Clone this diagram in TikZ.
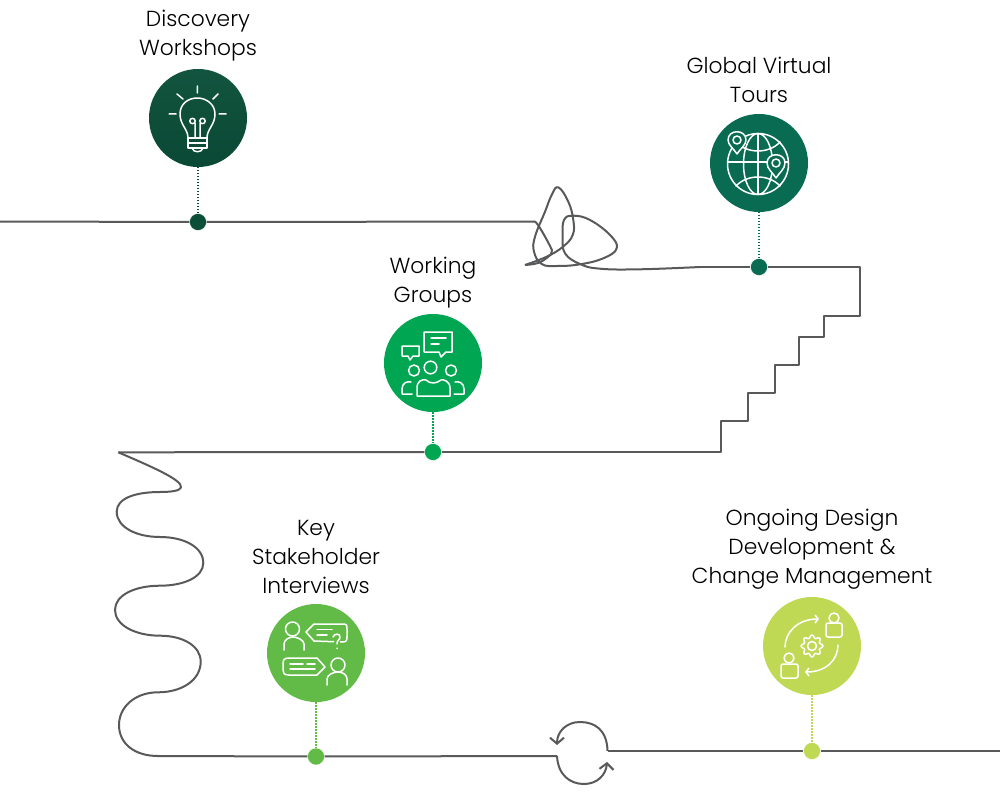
\documentclass[tikz,border=0pt]{standalone}
\usepackage{fontspec}
\setmainfont{Poppins Light}
\usetikzlibrary{arrows.meta}
\definecolor{linegrey}{HTML}{58595B}
\definecolor{discgreen}{HTML}{0B4F39}
\definecolor{globgreen}{HTML}{086B52}
\definecolor{workgreen}{HTML}{00A651}
\definecolor{keygreen}{HTML}{62BB46}
\definecolor{onggreen}{HTML}{BFD955}
\tikzset{
  bigcirc/.style={circle,minimum size=98pt,inner sep=0pt},
  stopdot/.style={circle,minimum size=17pt,inner sep=0pt,draw=white,line width=0.4pt},
  tag/.style={align=center,font=\fontsize{21.8}{29}\selectfont,text=black},
  track/.style={draw=linegrey,line width=2pt,line join=round},
  drop/.style={line width=1.3pt,dash pattern=on 1.3pt off 1.7pt},
  icon/.style={draw=white,line width=1.5pt,line cap=round,line join=round},
}
\begin{document}
\begin{tikzpicture}[x=1pt,y=-1pt]
\useasboundingbox (0,0) rectangle (1000,794);

% circles
\node (disc) at (198,118) [bigcirc,top color=discgreen!97!white,bottom color=discgreen!92!black] {};
\node (glob) at (759,163) [bigcirc,fill=globgreen] {};
\node (work) at (433,363) [bigcirc,fill=workgreen] {};
\node (key) at (316,653) [bigcirc,fill=keygreen] {};
\node (ong) at (812,646) [bigcirc,fill=onggreen] {};

% stops
\node (d1) at (198,222) [stopdot,fill=discgreen] {};
\node (d2) at (759,267) [stopdot,fill=globgreen] {};
\node (d3) at (433,452) [stopdot,fill=workgreen] {};
\node (d4) at (316,756.5) [stopdot,fill=keygreen] {};
\node (d5) at (812,751) [stopdot,fill=onggreen] {};

% labels
\node (t1) at (198,36) [tag] {Discovery\\Workshops};
\node (t2) at (759,80) [tag] {Global Virtual\\Tours};
\node (t3) at (433,283) [tag] {Working\\Groups};
\node (t4) at (316,557) [tag] {Key\\Stakeholder\\Interviews};
\node (t5) at (812,549) [tag] {Ongoing Design\\Development \&\\Change Management};

\draw[drop,discgreen] (disc) -- (d1);
\draw[drop,globgreen] (glob) -- (d2);
\draw[drop,workgreen] (work) -- (d3);
\draw[drop,keygreen] (key) -- (d4);
\draw[drop,onggreen] (ong) -- (d5);

% free ends
\coordinate (inL) at (0,221.5);
\coordinate (knotA) at (535,221.5);
\coordinate (knotB) at (525,265);
\coordinate (knotC) at (700,267);
\coordinate (waveA) at (118.3,452.3);
\coordinate (waveB) at (158,756);
\coordinate (loopA) at (557,756);
\coordinate (loopB) at (607.5,751);
\coordinate (outR) at (1000,751);

% track
\draw[track] (inL) -- (d1);
\draw[track] (d1) -- (knotA);
\draw[track] plot[smooth,tension=0.7] coordinates {(knotA) (540,228) (550,246) (551.7,252) (548,257) (538,263) (knotB)};
\draw[track] plot[smooth,tension=0.7] coordinates {(knotB) (546.7,256.7) (563,246.7) (572.7,235) (573.3,220) (568.3,201.7) (558.3,187.3) (551.7,195) (545,211.7) (535,236.7) (534,251.7) (541.7,264) (556.7,266) (580,264.3) (603.3,258.3) (616.7,248.3) (610,235) (590,220) (573.3,215.7) (564,220) (562.7,236.7) (565,253.3) (580,264) (600,268.7) (640,269.3) (knotC)};
\draw[track] (knotC) -- (d2);
\draw[track] (d2) -- (860,267) -- (860,316) -- (824,316) -- (824,337) -- (799,337) -- (799,365) -- (775,365) -- (775,393) -- (748,393) -- (748,421) -- (721,421) -- (721,452) -- (d3);
\draw[track] (d3) -- (waveA);
\draw[track] (waveA) .. controls (150,466) and (183,480) .. (181,487.5) .. controls (180,491) and (170,492) .. (160,492)
  .. controls (136,492) and (116.7,498) .. (116.7,511.7) .. controls (116.7,527) and (136,537) .. (160,537)
  .. controls (184,537) and (203.3,547) .. (203.3,563) .. controls (203.3,577) and (184,585.7) .. (160,585.7)
  .. controls (135,585.7) and (115,595) .. (115,610) .. controls (115,625) and (135,635.7) .. (160,635.7)
  .. controls (183,635.7) and (200.7,646) .. (200.7,661.7) .. controls (200.7,680) and (182,692.3) .. (158,692.3)
  .. controls (135,692.3) and (119,707) .. (119,725) .. controls (119,744) and (135,756) .. (waveB);
\draw[track] (waveB) -- (d4);
\draw[track] (d4) -- (loopA);
\draw[track,-{Straight Barb[length=6pt,width=14pt]}] (loopA) .. controls (558,775) and (570,784) .. (584,784) .. controls (597,784) and (606,775) .. (607,762);
\draw[track,-{Straight Barb[length=6pt,width=14pt]}] (loopB) .. controls (607,730) and (595,722) .. (580,722) .. controls (566,722) and (557,732) .. (557,745);
\draw[track] (loopB) -- (d5);
\draw[track] (d5) -- (outR);

% bulb
\begin{scope}[shift={(disc.center)},icon]
\draw (-0.7,-32) -- (-0.7,-25) (-29,-4) -- (-22,-4) (28,-4) -- (21,-4) (-21,-24) -- (-15,-19) (20,-24) -- (15,-19);
\draw (-10,20) .. controls (-10,11) and (-18,7) .. (-18,-4) .. controls (-18,-14) and (-10,-20) .. (-0.7,-20) .. controls (8,-20) and (17,-14) .. (17,-4) .. controls (17,7) and (9,11) .. (9,20);
\draw (-5.5,3) circle (2.7) (4.5,3) circle (2.7) (-3,5) -- (-3,20) (2,5) -- (2,20);
\draw (-10,20) -- (9,20) (-10,25) -- (9,25) (-10,20) -- (-10,30) -- (9,30) -- (9,20);
\draw (-6,30) .. controls (-5,35) and (4,35) .. (5,30);
\end{scope}

% globe
\begin{scope}[shift={(glob.center)},icon]
\draw (-1,1) circle (30.5);
\draw (-1,1) ellipse (14.5 and 30.5);
\draw (-1,-29.5) -- (-1,31.5) (-31,-1) -- (29,-1);
\draw (-23,-21) .. controls (-12,-9) and (10,-9) .. (21,-21);
\draw (-23,23) .. controls (-12,11) and (10,11) .. (21,23);
\draw[fill=globgreen] (-22,-9) .. controls (-25,-14) and (-31,-18) .. (-31,-23) .. controls (-31,-34) and (-13,-34) .. (-13,-23) .. controls (-13,-18) and (-19,-14) .. (-22,-9);
\draw (-22,-23) circle (4);
\draw[fill=globgreen] (17,15) .. controls (14,10) and (8,6) .. (8,0) .. controls (8,-11) and (26,-11) .. (26,0) .. controls (26,6) and (20,10) .. (17,15);
\draw (17,0) circle (4);
\end{scope}

% people
\begin{scope}[shift={(work.center)},icon]
\draw (-9,-31) -- (19,-31) -- (19,-11) -- (13,-11) -- (8,-6) -- (6,-11) -- (-9,-11) -- cycle;
\draw (-2,-25) -- (13,-25) (-2,-19) -- (6,-19);
\draw (-31,-17) -- (-14,-17) -- (-14,-7) -- (-20,-7) -- (-23,-3) -- (-25,-7) -- (-31,-7) -- cycle;
\draw (-2.5,4.5) circle (6.3) (-19,7.5) circle (5.5) (18,7.5) circle (5.5);
\draw (-16,33) -- (17,33) -- (17,25) .. controls (17,18) and (10,16) .. (8,17) .. controls (3,21) and (-3,21) .. (-7,17) .. controls (-11,16) and (-16,18) .. (-16,25) -- cycle;
\draw (-22,19) .. controls (-26,18) and (-31,20) .. (-31,26) -- (-31,31) -- (-21,31);
\draw (22,19) .. controls (26,18) and (31,20) .. (31,26) -- (31,31) -- (21,31);
\end{scope}

% interview
\begin{scope}[shift={(key.center)},icon]
\draw (-23.5,-24) circle (7);
\draw (-32,-3) -- (-32,-9) .. controls (-32,-13) and (-27,-16) .. (-23,-16) .. controls (-19,-16) and (-12,-13) .. (-12,-9) -- (-12,-3);
\draw (-10,-21) -- (-2,-29) -- (26,-29) .. controls (31,-29) and (31,-28) .. (31,-24) -- (31,-16) .. controls (31,-12) and (30,-11) .. (26,-11) -- (-2,-12) -- cycle;
\draw (1,-23.5) -- (16,-23.5) (1,-18) -- (11,-18);
\draw[fill=keygreen,draw=keygreen,line width=4pt] (21,-11) circle (1pt);
\draw (17,-16) .. controls (18,-20) and (25,-20) .. (24,-15) .. controls (23,-12) and (21,-13) .. (21,-9) (21,-5) -- (21,-4.5);
\draw (9,14) -- (1,22) -- (-27,22) .. controls (-32,22) and (-33,20) .. (-33,17) -- (-33,11) .. controls (-33,7) and (-32,5) .. (-27,5) -- (1,5) -- cycle;
\draw (-26,11) -- (-13,11) (-9,11) -- (-1,11) (-26,16) -- (-1,16);
\draw (22,12) circle (7);
\draw (11,32) -- (11,26) .. controls (11,22) and (17,19) .. (22,19) .. controls (27,19) and (31,22) .. (31,26) -- (31,32);
\end{scope}

% change
\begin{scope}[shift={(ong.center)},icon]
\draw (22,-28) circle (5) (-23,12) circle (5);
\draw[rounded corners=2pt] (14,-23) rectangle (30,-9);
\draw[rounded corners=2pt] (-31,18) rectangle (-14,32);
\draw plot[smooth cycle,samples=49,domain=0:352.5] ({\x}:{9.5+1.5*cos(8*\x)});
\draw (0,0) circle (4.5);
\draw[-{Straight Barb[length=3pt,width=8pt]}] (-27,1) .. controls (-27,-13) and (-15,-27) .. (7,-27);
\draw[-{Straight Barb[length=3pt,width=8pt]}] (26,-1) .. controls (26,13) and (15,26) .. (-7,26);
\end{scope}
\end{tikzpicture}
\end{document}
